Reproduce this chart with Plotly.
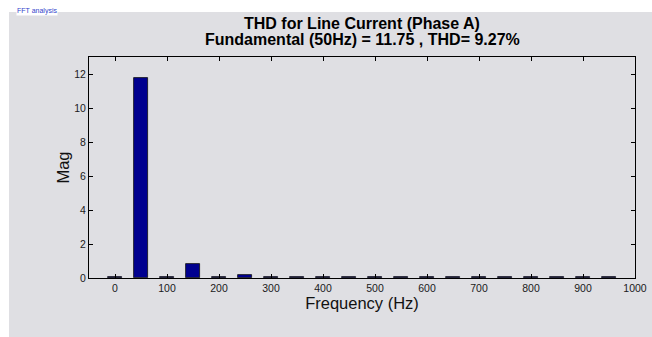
import plotly.graph_objects as go

# Harmonic spectrum of phase-A line current
freq_hz = [0, 50, 100, 150, 200, 250, 300, 350, 400, 450,
           500, 550, 600, 650, 700, 750, 800, 850, 900, 950]
magnitude = [0.04, 11.75, 0.04, 0.82, 0.04, 0.15, 0.03, 0.03, 0.03, 0.03,
             0.05, 0.03, 0.03, 0.03, 0.03, 0.03, 0.03, 0.03, 0.03, 0.06]
x_ticks = [0, 100, 200, 300, 400, 500, 600, 700, 800, 900, 1000]
y_ticks = [0, 2, 4, 6, 8, 10, 12]

# layout grid (pixel positions on a 652x337 canvas)
W, H = 652, 337
FIG_W, FIG_H = 664, 343
FONT = "Liberation Sans, Arial, sans-serif"

fig = go.Figure(
    go.Bar(
        x=freq_hz,
        y=magnitude,
        width=26,
        marker=dict(color="#00008F", line=dict(color="#111111", width=0.8)),
    )
)

axis_common = dict(
    showline=True,
    linecolor="black",
    linewidth=1,
    mirror="ticks",
    ticks="inside",
    ticklen=4,
    tickcolor="black",
    showgrid=False,
    zeroline=False,
    tickfont=dict(family=FONT, size=10.5, color="#1a1a1a"),
)

fig.update_layout(
    width=FIG_W,
    height=FIG_H,
    margin=dict(l=0, r=0, t=0, b=0),
    paper_bgcolor="white",
    plot_bgcolor="white",
    showlegend=False,
    bargap=0,
    xaxis=dict(
        axis_common,
        domain=[89 / W, 635 / W],
        range=[-50, 1000],
        tickvals=x_ticks,
        title=dict(text="Frequency (Hz)", font=dict(family=FONT, size=16.5, color="#111"), standoff=1),
    ),
    yaxis=dict(
        axis_common,
        domain=[1 - 278 / H, 1 - 57 / H],
        range=[0, 13],
        tickvals=y_ticks,
        title=dict(text="Mag", font=dict(family=FONT, size=16.5, color="#111"), standoff=0),
    ),
    shapes=[
        dict(type="rect", xref="paper", yref="paper",
             x0=9 / W, x1=1, y0=0, y1=1 - 12 / H,
             fillcolor="#DFDFE3", line=dict(width=0), layer="below"),
    ],
    annotations=[
        dict(text="<b>THD for Line Current (Phase A)</b>", xref="paper", yref="paper",
             x=362 / W, y=1 - 23 / H, xanchor="center", yanchor="middle", showarrow=False,
             font=dict(family=FONT, size=16, color="black")),
        dict(text="<b>Fundamental (50Hz) = 11.75 , THD= 9.27%</b>", xref="paper", yref="paper",
             x=362 / W, y=1 - 39.5 / H, xanchor="center", yanchor="middle", showarrow=False,
             font=dict(family=FONT, size=16, color="black")),
        dict(text="FFT analysis", xref="paper", yref="paper",
             x=16 / W, y=1 - 11 / H, xanchor="left", yanchor="middle", showarrow=False,
             bgcolor="white", borderpad=0,
             font=dict(family=FONT, size=7, color="#3344CC")),
    ],
)

page_css = (
    "var s=document.createElement('style');"
    "s.textContent='html,body{margin:0;padding:0;overflow:hidden}';"
    "document.head.appendChild(s);"
)
fig.write_html("out.html", post_script=page_css, config={"displayModeBar": False})
